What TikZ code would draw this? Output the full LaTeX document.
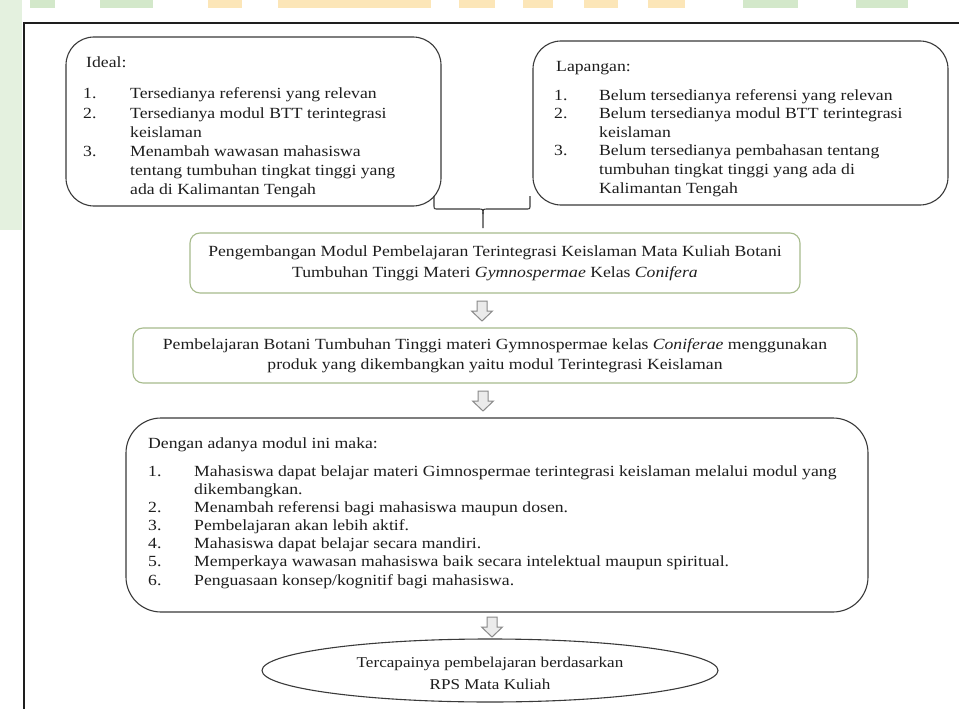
\documentclass[tikz,border=0pt]{standalone}
\usepackage{fontspec}
\setmainfont{Liberation Serif}[FakeStretch=1.14]
\usetikzlibrary{shapes.geometric}
\definecolor{ink}{HTML}{1E1E1E}
\definecolor{boxline}{HTML}{3A3A3A}
\definecolor{greenline}{HTML}{A7BB8C}
\definecolor{arrowgray}{HTML}{8A8A8A}
\definecolor{bggreen}{HTML}{D3E8CA}
\definecolor{bgorange}{HTML}{FCE6B8}
\newcommand\bodyfont{\fontsize{15.5}{18.6}\selectfont}
\newcommand\nmA[1]{\makebox[47pt][l]{#1}}
\newcommand\nmB[1]{\makebox[45pt][l]{#1}}
\newcommand\nmC[1]{\makebox[46pt][l]{#1}}
\tikzset{
  roundbox/.style={draw=boxline, line width=1.1pt, rectangle, rounded corners=#1, inner sep=0pt},
  greenbox/.style={draw=greenline, line width=1.1pt, rectangle, rounded corners=10pt, inner sep=0pt, fill=white},
  txt/.style={anchor=base west, inner sep=0pt, font=\bodyfont, text=ink},
  ctxt/.style={inner sep=0pt, font=\bodyfont, text=ink, align=center},
  blockarrow/.style={draw=arrowgray, line width=1pt, fill=black!8, line join=miter},
  frameline/.style={draw=ink, line width=1.6pt},
  braceline/.style={draw=boxline, line width=1.1pt}
}
\begin{document}
\begin{tikzpicture}[x=1pt,y=-1pt]
\useasboundingbox (0,0) rectangle (959,709);
% background decoration
\fill[bggreen!60] (0,0) rectangle (22,230);
\foreach \a/\b in {30/55,100/153,743/798,856/908}{\fill[bggreen] (\a,0) rectangle (\b,8);}
\foreach \a/\b in {208/242,278/431,459/495,523/553,584/618,648/685}{\fill[bgorange] (\a,0) rectangle (\b,8);}
\fill[white] (24,23) rectangle (959,709);
% frame
\draw[frameline] (959,23) -- (24,23) -- (24,709);

% top boxes
\node[roundbox=28pt, minimum width=375pt, minimum height=169pt] (ideal) at (253.5,121.5) {};
\node[roundbox=28pt, minimum width=415pt, minimum height=164pt] (lapangan) at (740.5,123) {};

\node[txt] (idealh) at (86,67) {Ideal:};
\node[txt] (ideal1) at (83,99) {\nmA{1.}Tersedianya referensi yang relevan};
\node[txt] (ideal2) at (83,118) {\nmA{2.}Tersedianya modul BTT terintegrasi};
\node[txt] (ideal2b) at (130,137) {keislaman};
\node[txt] (ideal3) at (83,156) {\nmA{3.}Menambah wawasan mahasiswa};
\node[txt] (ideal3b) at (130,175) {tentang tumbuhan tingkat tinggi yang};
\node[txt] (ideal3c) at (130,194) {ada di Kalimantan Tengah};

\node[txt] (laph) at (556,71) {Lapangan:};
\node[txt] (lap1) at (554,100) {\nmB{1.}Belum tersedianya referensi yang relevan};
\node[txt] (lap2) at (554,118.6) {\nmB{2.}Belum tersedianya modul BTT terintegrasi};
\node[txt] (lap2b) at (599,137.2) {keislaman};
\node[txt] (lap3) at (554,155.8) {\nmB{3.}Belum tersedianya pembahasan tentang};
\node[txt] (lap3b) at (599,174.4) {tumbuhan tingkat tinggi yang ada di};
\node[txt] (lap3c) at (599,193) {Kalimantan Tengah};

% brace
\coordinate (bl) at (434,196);
\coordinate (br) at (530,196);
\coordinate (btip) at (483,228);
\draw[braceline] (bl) -- (434,205) .. controls (434,209) .. (438,209) -- (478,209)
  .. controls (483,209) .. (483,214) -- (btip);
\draw[braceline] (br) -- (530,205) .. controls (530,209) .. (526,209) -- (488,209)
  .. controls (483,209) .. (483,214);

% box 1
\node[greenbox, minimum width=610pt, minimum height=60pt] (box1) at (495,263) {};
\node[ctxt, font=\fontsize{15.5}{21}\selectfont] (t1) at (box1.center) {Pengembangan Modul Pembelajaran Terintegrasi Keislaman Mata Kuliah Botani\\Tumbuhan Tinggi Materi \textit{Gymnospermae} Kelas \textit{Conifera}};

% box 2
\node[greenbox, minimum width=724pt, minimum height=55pt] (box2) at (495,355.5) {};
\node[ctxt, font=\fontsize{15.5}{20}\selectfont] (t2) at (box2.center) {Pembelajaran Botani Tumbuhan Tinggi materi Gymnospermae kelas \textit{Coniferae} menggunakan\\produk yang dikembangkan yaitu modul Terintegrasi Keislaman};

% box 3
\node[roundbox=35pt, minimum width=742pt, minimum height=194pt] (box3) at (497,515) {};
\node[txt] (b3h) at (148,448) {Dengan adanya modul ini maka:};
\node[txt] (b31) at (148,476) {\nmC{1.}Mahasiswa dapat belajar materi Gimnospermae terintegrasi keislaman melalui modul yang};
\node[txt] (b31b) at (194,494) {dikembangkan.};
\node[txt] (b32) at (148,512.2) {\nmC{2.}Menambah referensi bagi mahasiswa maupun dosen.};
\node[txt] (b33) at (148,530.4) {\nmC{3.}Pembelajaran akan lebih aktif.};
\node[txt] (b34) at (148,548.6) {\nmC{4.}Mahasiswa dapat belajar secara mandiri.};
\node[txt] (b35) at (148,566.8) {\nmC{5.}Memperkaya wawasan mahasiswa baik secara intelektual maupun spiritual.};
\node[txt] (b36) at (148,585) {\nmC{6.}Penguasaan konsep/kognitif bagi mahasiswa.};

% ellipse
\node[draw=boxline, line width=1.1pt, ellipse, minimum width=456pt, minimum height=63pt, inner sep=0pt] (goal) at (490,670.5) {};
\node[ctxt, font=\fontsize{15}{22}\selectfont] (tg) at (490,673) {Tercapainya pembelajaran berdasarkan\\RPS Mata Kuliah};

% block arrows
\coordinate (a1) at (482,301);
\coordinate (a2) at (483,391);
\coordinate (a3) at (492,617);
\foreach \c in {a1,a2,a3}{
  \draw[blockarrow] (\c) ++(-5,0) -- ++(10,0) -- ++(0,10) -- ++(5.5,0) -- ++(-10.5,10) -- ++(-10.5,-10) -- ++(5.5,0) -- cycle;
}
\end{tikzpicture}
\end{document}
